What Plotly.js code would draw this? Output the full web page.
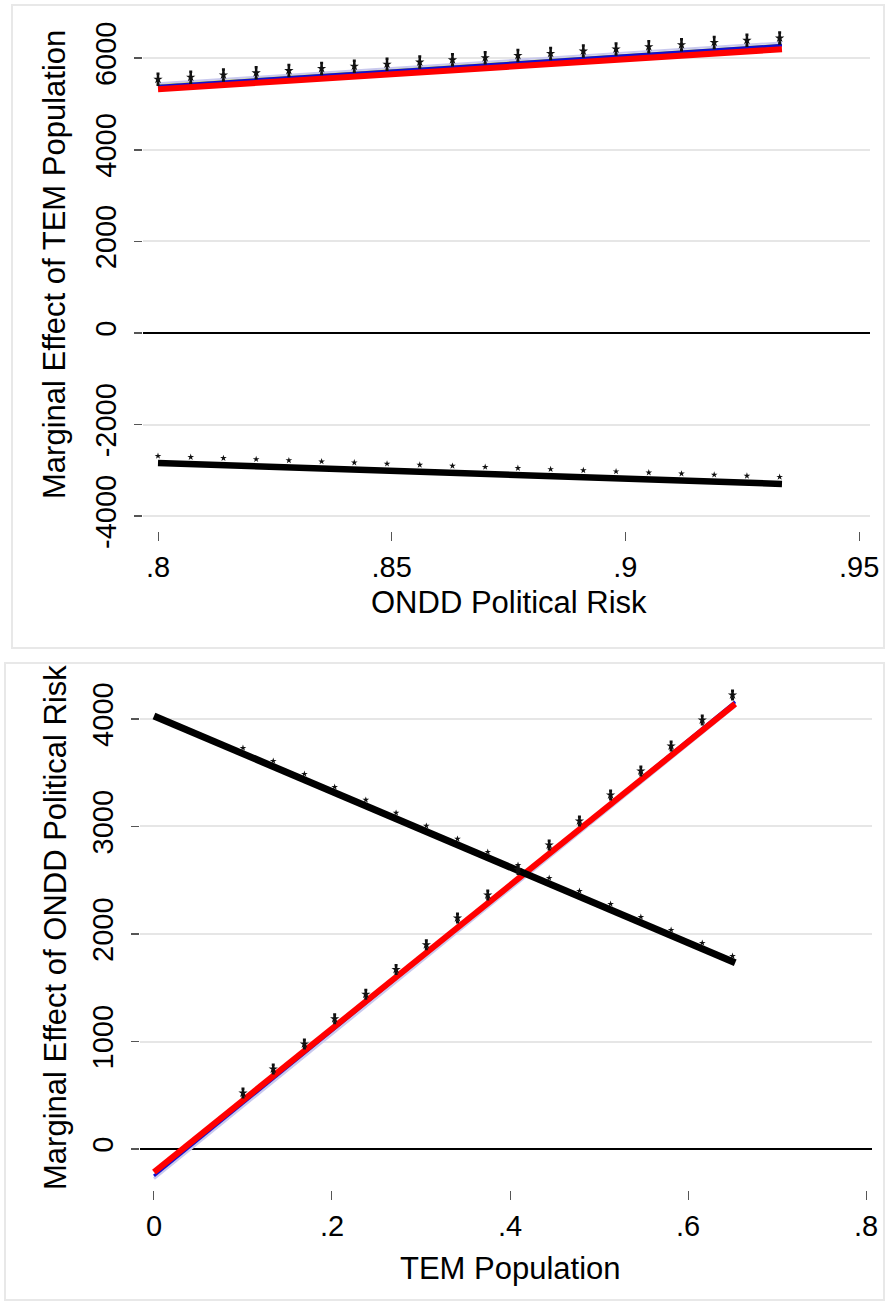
<!DOCTYPE html>
<html>
<head>
<meta charset="utf-8">
<script src="https://cdn.plot.ly/plotly-3.0.1.min.js"></script>
<style>html,body{margin:0;padding:0;background:#fff}</style>
</head>
<body>
<div id="chart" style="width:889px;height:1306px"></div>
<script>
// ---- Panel 1: marginal effect of TEM population across ONDD political risk ----
const riskGrid = [0.800, 0.807, 0.814, 0.821, 0.828, 0.835, 0.842, 0.849, 0.856, 0.863,
                  0.870, 0.877, 0.884, 0.891, 0.898, 0.905, 0.912, 0.919, 0.926, 0.933];
const temEffectPts = [5540, 5585, 5635, 5680, 5730, 5775, 5825, 5870, 5915, 5965,
                      6010, 6060, 6105, 6155, 6200, 6250, 6295, 6345, 6390, 6440];
const temEffectBar = [120, 120, 120, 120, 120, 120, 120, 120, 120, 120,
                      120, 120, 120, 120, 120, 120, 120, 120, 120, 120];
const temBaseStars = [-2685, -2709, -2733, -2757, -2781, -2806, -2830, -2854, -2878, -2902,
                      -2926, -2950, -2974, -2998, -3023, -3047, -3071, -3095, -3119, -3143];
const riskLineX = [0.800, 0.9335];
const temFitRed = [5323, 6196];
const temFitBlue = [5390, 6280];
const temFitGreen = [5420, 6305];
const temFitUpper = [5455, 6345];
const temFitBlack = [-2838, -3296];
const riskTicks = [0.8, 0.85, 0.9, 0.95];
const riskTickText = ['.8', '.85', '.9', '.95'];
const temYTicks = [-4000, -2000, 0, 2000, 4000, 6000];

// ---- Panel 2: marginal effect of ONDD political risk across TEM population ----
const temGrid = [0.100, 0.134, 0.169, 0.203, 0.238, 0.272, 0.306, 0.341, 0.375,
                 0.409, 0.444, 0.478, 0.513, 0.547, 0.581, 0.616, 0.650];
const riskEffectPts = [521, 744, 977, 1212, 1440, 1670, 1900, 2149, 2363,
                       2600, 2828, 3051, 3293, 3516, 3749, 3991, 4223];
const riskEffectBar = [40, 40, 40, 40, 40, 40, 40, 40, 40,
                       40, 40, 40, 40, 40, 40, 40, 40];
const riskBaseStars = [3730, 3609, 3488, 3367, 3247, 3126, 3005, 2884, 2763,
                       2642, 2521, 2400, 2279, 2158, 2037, 1916, 1795];
const temLineX = [0.000, 0.653];
const riskFitRed = [-214, 4140];
const riskFitBlue = [-250, 4160];
const riskFitLower = [-275, 4120];
const riskFitBlack = [4028, 1733];
const temTicks = [0, 0.2, 0.4, 0.6, 0.8];
const temTickText = ['0', '.2', '.4', '.6', '.8'];
const riskYTicks = [0, 1000, 2000, 3000, 4000];

const W = 889, H = 1306;
const px = v => v / W;          // horizontal pixel -> paper
const py = v => 1 - v / H;      // vertical pixel -> paper

function line(x, y, color, width, xa, ya) {
  return {x: x, y: y, mode: 'lines', xaxis: xa, yaxis: ya, hoverinfo: 'skip',
          line: {color: color, width: width}};
}
function pts(x, y, size, err, xa, ya) {
  const t = {x: x, y: y, mode: 'markers', xaxis: xa, yaxis: ya, hoverinfo: 'skip',
             marker: {symbol: 'star', size: size, color: '#111'}};
  if (err) t.error_y = {type: 'data', array: err, color: '#111', thickness: 2.5, width: 1.5};
  return t;
}

const data = [
  // panel 1
  line(riskLineX, temFitUpper, '#c9c9ee', 2, 'x', 'y'),
  line(riskLineX, temFitGreen, '#b9c94a', 1, 'x', 'y'),
  line(riskLineX, temFitBlue, '#1010d0', 3, 'x', 'y'),
  line(riskLineX, temFitRed, '#ff0000', 6, 'x', 'y'),
  line(riskLineX, temFitBlack, '#000000', 6.5, 'x', 'y'),
  pts(riskGrid, temEffectPts, 7, temEffectBar, 'x', 'y'),
  pts(riskGrid, temBaseStars, 5, null, 'x', 'y'),
  // panel 2
  line(temLineX, riskFitLower, '#c9c9ee', 3, 'x2', 'y2'),
  line(temLineX, riskFitBlue, '#1010d0', 3, 'x2', 'y2'),
  line(temLineX, riskFitRed, '#ff0000', 6, 'x2', 'y2'),
  line(temLineX, riskFitBlack, '#000000', 7, 'x2', 'y2'),
  pts(temGrid, riskEffectPts, 7, riskEffectBar, 'x2', 'y2'),
  pts(temGrid, riskBaseStars, 5, null, 'x2', 'y2')
];

const tickFont = {family: 'Liberation Sans, Arial, sans-serif', size: 29, color: '#000'};
const titleFont = {family: 'Liberation Sans, Arial, sans-serif', size: 31, color: '#000'};

function xAxis(domain, range, vals, text, anchor) {
  return {domain: domain, range: range, anchor: anchor, tickvals: vals, ticktext: text,
          ticks: 'outside', ticklen: 9, tickwidth: 1, tickcolor: '#555',
          showline: false, showgrid: false, zeroline: false,
          tickfont: tickFont, ticklabelstandoff: 1, fixedrange: true};
}
function yAxis(domain, range, vals, anchor) {
  return {domain: domain, range: range, anchor: anchor, tickvals: vals,
          ticktext: vals.map(String), tickangle: -90,
          ticks: 'outside', ticklen: 8, tickwidth: 1.5, tickcolor: '#555',
          showline: false, showgrid: true, gridcolor: '#e6e6e6', gridwidth: 2,
          zeroline: true, zerolinecolor: '#000', zerolinewidth: 2,
          tickfont: tickFont, ticklabelstandoff: 6, fixedrange: true};
}

const layout = {
  width: W, height: H,
  margin: {l: 0, r: 0, t: 0, b: 0},
  paper_bgcolor: '#fff', plot_bgcolor: '#fff',
  showlegend: false,
  font: titleFont,
  xaxis: xAxis([px(143), px(870)], [0.79679, 0.95233], riskTicks, riskTickText, 'y'),
  yaxis: yAxis([py(531), py(26)], [-4323, 6703], temYTicks, 'x'),
  xaxis2: xAxis([px(140), px(872)], [-0.0157, 0.8067], temTicks, temTickText, 'y2'),
  yaxis2: yAxis([py(1190), py(688)], [-381, 4288], riskYTicks, 'x2'),
  shapes: [
    {type: 'rect', xref: 'paper', yref: 'paper', x0: px(12), x1: px(884), y0: py(648), y1: py(5),
     line: {color: '#e8e8e8', width: 2}, fillcolor: 'rgba(0,0,0,0)', layer: 'below'},
    {type: 'rect', xref: 'paper', yref: 'paper', x0: px(5), x1: px(884), y0: py(1300), y1: py(663),
     line: {color: '#e8e8e8', width: 2}, fillcolor: 'rgba(0,0,0,0)', layer: 'below'}
  ],
  annotations: [
    {text: 'Marginal Effect of TEM Population', xref: 'paper', yref: 'paper',
     x: px(55), y: py(265), xanchor: 'center', yanchor: 'middle', textangle: -90,
     showarrow: false, font: titleFont},
    {text: 'ONDD Political Risk', xref: 'paper', yref: 'paper',
     x: px(509), y: py(603), xanchor: 'center', yanchor: 'middle',
     showarrow: false, font: titleFont},
    {text: 'Marginal Effect of ONDD Political Risk', xref: 'paper', yref: 'paper',
     x: px(55), y: py(928), xanchor: 'center', yanchor: 'middle', textangle: -90,
     showarrow: false, font: titleFont},
    {text: 'TEM Population', xref: 'paper', yref: 'paper',
     x: px(510), y: py(1268), xanchor: 'center', yanchor: 'middle',
     showarrow: false, font: titleFont}
  ]
};

Plotly.newPlot('chart', data, layout, {displayModeBar: false, staticPlot: true});
</script>
</body>
</html>
